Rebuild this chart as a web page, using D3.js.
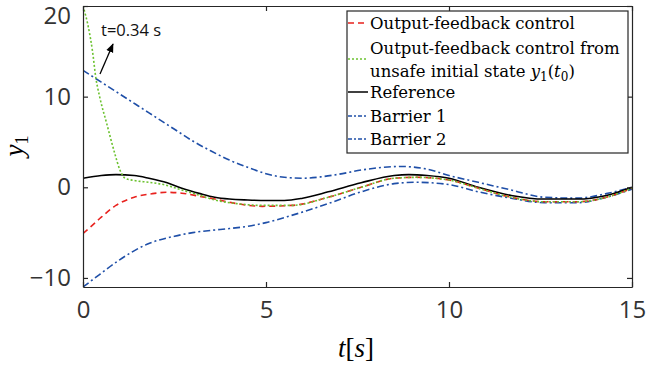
<!DOCTYPE html>
<html>
<head>
<meta charset="utf-8">
<script src="https://cdn.jsdelivr.net/npm/d3@7"></script>
<style>
  body { margin: 0; background: #fff; }
  svg { display: block; }
</style>
</head>
<body>
<svg id="chart" width="647" height="371"></svg>
<script>
// data: [t, y1]
const reference = [[0,1.0],[0.5,1.3],[0.9,1.4],[1.4,1.3],[1.8,1.0],[2.3,0.5],[2.7,-0.1],[3.2,-0.7],[3.6,-1.1],[4.0,-1.3],[4.5,-1.4],[5.0,-1.45],[5.5,-1.45],[6.0,-1.2],[6.7,-0.5],[7.6,0.5],[8.5,1.3],[8.9,1.4],[9.4,1.3],[10,1.0],[10.8,0.0],[11.7,-0.9],[12.6,-1.3],[13.5,-1.3],[14.3,-0.9],[15,0.0]];
const outputFeedback = [[0,-5.1],[0.2,-4.4],[0.5,-3.3],[0.9,-2.0],[1.4,-1.1],[1.9,-0.7],[2.3,-0.55],[2.7,-0.65],[3.2,-1.0],[3.6,-1.3],[4.2,-1.8],[4.9,-2.1],[5.7,-2.0],[6.7,-1.1],[7.6,0.0],[8.5,1.0],[9.1,1.1],[10,0.8],[10.8,-0.1],[11.7,-1.1],[12.6,-1.6],[13.5,-1.6],[14.3,-1.1],[15,-0.1]];
const unsafeStart = [[0,20],[0.15,17.6],[0.26,15.0],[0.35,12.1],[0.46,9.9],[0.65,7.0],[0.87,3.7],[1.0,2.0],[1.15,1.0],[1.4,0.75],[1.8,0.55],[2.2,0.3],[2.7,-0.3],[3.2,-0.9],[3.6,-1.4],[4.2,-1.8],[4.9,-2.0],[5.7,-2.0],[6.7,-1.1],[7.6,0.0],[8.5,1.0],[9.1,1.1],[10,0.8],[10.8,-0.1],[11.7,-1.1],[12.6,-1.6],[13.5,-1.6],[14.3,-1.1],[15,-0.1]];
const barrier1 = [[0,12.9],[0.5,11.6],[1,10.3],[1.5,9.0],[2,7.7],[2.5,6.4],[3,5.1],[3.5,4.0],[4,3.0],[4.5,2.2],[5,1.5],[5.5,1.1],[6,1.0],[6.5,1.15],[7,1.45],[7.6,1.9],[8.2,2.2],[8.7,2.3],[9.4,2.0],[10,1.3],[10.8,0.55],[11.7,-0.3],[12.6,-1.1],[13.5,-1.2],[14.3,-0.7],[15,0.0]];
const barrier2 = [[0,-11],[0.46,-9.6],[1,-8.0],[1.8,-6.2],[2.5,-5.4],[3,-5.0],[3.5,-4.75],[4,-4.55],[4.5,-4.3],[5,-3.9],[5.7,-3.1],[6.7,-1.8],[7.6,-0.5],[8.5,0.4],[9.1,0.55],[10,0.3],[10.8,-0.5],[11.7,-1.2],[12.6,-1.7],[13.5,-1.7],[14.3,-1.1],[15,-0.2]];

const xTicks = [0, 5, 10, 15];
const yTicks = [-10, 0, 10, 20];

const svg = d3.select("#chart");
const margin = { top: 6, right: 15, bottom: 84, left: 83 };
const width = 647, height = 371;
const axisColor = "#262626";

const x = d3.scaleLinear().domain([0, 15]).range([margin.left, width - margin.right]);
const y = d3.scaleLinear().domain([-11, 20]).range([height - margin.bottom, margin.top]);

svg.append("defs").append("clipPath").attr("id", "plot-clip")
  .append("rect")
  .attr("x", x(0)).attr("y", y(20))
  .attr("width", x(15) - x(0)).attr("height", y(-11) - y(20));

const line = d3.line()
  .x(d => x(d[0]))
  .y(d => y(d[1]))
  .curve(d3.curveMonotoneX);

const series = [
  { data: barrier1, color: "#1f4fa8", dash: "7,3,2,3" },
  { data: barrier2, color: "#1f4fa8", dash: "7,3,2,3" },
  { data: reference, color: "#000000", dash: null },
  { data: outputFeedback, color: "#e8221e", dash: "6,4" },
  { data: unsafeStart, color: "#6cc230", dash: "2,2" }
];

const plot = svg.append("g").attr("clip-path", "url(#plot-clip)");
series.forEach(s => {
  plot.append("path")
    .datum(s.data)
    .attr("fill", "none")
    .attr("stroke", s.color)
    .attr("stroke-width", 1.6)
    .attr("stroke-dasharray", s.dash)
    .attr("d", line);
});

// axes (box with inward ticks on all sides)
const tickLen = 5;
const xAxis = svg.append("g")
  .attr("transform", `translate(0,${y(-11)})`)
  .call(d3.axisBottom(x).tickValues(xTicks).tickSizeInner(-tickLen).tickSizeOuter(0).tickPadding(14));
const yAxis = svg.append("g")
  .attr("transform", `translate(${x(0)},0)`)
  .call(d3.axisLeft(y).tickValues(yTicks).tickSizeInner(-tickLen).tickSizeOuter(0).tickPadding(12));
svg.append("g")
  .attr("transform", `translate(0,${y(20)})`)
  .call(d3.axisTop(x).tickValues(xTicks).tickSizeInner(-tickLen).tickSizeOuter(0).tickFormat(""));
svg.append("g")
  .attr("transform", `translate(${x(15)},0)`)
  .call(d3.axisRight(y).tickValues(yTicks).tickSizeInner(-tickLen).tickSizeOuter(0).tickFormat(""));

svg.selectAll(".domain, .tick line").attr("stroke", axisColor).attr("stroke-width", 1.2);
[xAxis, yAxis].forEach(g => g.selectAll(".tick text")
  .attr("fill", "#333")
  .style("font-family", "'Open Sans', sans-serif")
  .style("font-size", "24px"));
// top label sits against the page edge, as in the figure
yAxis.selectAll(".tick text").filter(d => d === 20).attr("dy", "0.72em");

// axis labels
svg.append("text")
  .attr("x", 356).attr("y", 357)
  .attr("text-anchor", "middle")
  .style("font-family", "'Liberation Serif', serif")
  .style("font-size", "27px")
  .html('<tspan font-style="italic">t</tspan>[<tspan font-style="italic">s</tspan>]');

svg.append("text")
  .attr("transform", "translate(23,146) rotate(-90)")
  .attr("text-anchor", "middle")
  .style("font-family", "'Liberation Serif', serif")
  .style("font-size", "27px")
  .html('<tspan font-style="italic">y</tspan><tspan font-size="18px" dy="5">1</tspan>');

// annotation
svg.append("defs").append("marker")
  .attr("id", "arrow").attr("viewBox", "0 0 10 10")
  .attr("refX", 9).attr("refY", 5)
  .attr("markerWidth", 7).attr("markerHeight", 7)
  .attr("orient", "auto")
  .append("path").attr("d", "M0,1 L10,5 L0,9 z").attr("fill", "#000");

svg.append("line")
  .attr("x1", 100).attr("y1", 74).attr("x2", 113).attr("y2", 44)
  .attr("stroke", "#000").attr("stroke-width", 1.3)
  .attr("marker-end", "url(#arrow)");

svg.append("text")
  .attr("x", 101).attr("y", 36)
  .style("font-family", "'Open Sans', sans-serif")
  .style("font-size", "16.5px")
  .attr("fill", "#111")
  .text("t=0.34 s");

// legend
const legend = svg.append("g");
legend.append("rect")
  .attr("x", 347).attr("y", 11)
  .attr("width", 281).attr("height", 142)
  .attr("fill", "#fff")
  .attr("stroke", axisColor).attr("stroke-width", 1.2);

const legendItems = [
  { color: "#e8221e", dash: "6,4", ly: 23, lines: [{ y: 29, html: "Output-feedback control" }] },
  { color: "#6cc230", dash: "2,2", ly: 59, lines: [
      { y: 54, html: "Output-feedback control from" },
      { y: 77, html: 'unsafe initial state <tspan font-style="italic">y</tspan><tspan font-size="12px" dy="4">1</tspan><tspan dy="-4">(</tspan><tspan font-style="italic">t</tspan><tspan font-size="12px" dy="4">0</tspan><tspan dy="-4">)</tspan>' }
    ] },
  { color: "#000000", dash: null, ly: 92, lines: [{ y: 98, html: "Reference" }] },
  { color: "#1f4fa8", dash: "4,2,2,2", ly: 116, lines: [{ y: 122, html: "Barrier 1" }] },
  { color: "#1f4fa8", dash: "4,2,2,2", ly: 139, lines: [{ y: 145, html: "Barrier 2" }] }
];

legendItems.forEach(item => {
  legend.append("line")
    .attr("x1", 348).attr("x2", 368)
    .attr("y1", item.ly).attr("y2", item.ly)
    .attr("stroke", item.color)
    .attr("stroke-width", 1.5)
    .attr("stroke-dasharray", item.dash);
  item.lines.forEach(l => {
    legend.append("text")
      .attr("x", 370).attr("y", l.y)
      .style("font-family", "'DejaVu Serif', serif")
      .style("font-size", "16.5px")
      .attr("fill", "#000")
      .html(l.html);
  });
});
</script>
</body>
</html>
